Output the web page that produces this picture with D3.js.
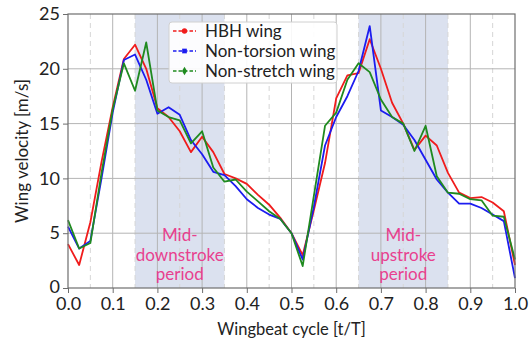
<!DOCTYPE html>
<html>
<head>
<meta charset="utf-8">
<script src="https://cdn.jsdelivr.net/npm/d3@7"></script>
<style>
  body { margin: 0; background: #fff; }
  svg { display: block; font-family: "Lato", "Noto Sans", sans-serif; }
</style>
</head>
<body>
<div id="chart"></div>
<script>
// wingbeat cycle samples (t/T)
const cycle = [0, 0.025, 0.05, 0.075, 0.1, 0.125, 0.15, 0.175, 0.2, 0.225, 0.25, 0.275, 0.3, 0.325, 0.35, 0.375, 0.4, 0.425, 0.45, 0.475, 0.5,
  0.525, 0.55, 0.575, 0.6, 0.625, 0.65, 0.675, 0.7, 0.725, 0.75, 0.775, 0.8, 0.825, 0.85, 0.875, 0.9, 0.925, 0.95, 0.975, 1.0]

const hbhWing = [4.0, 2.1, 6.0, 11.5, 16.5, 20.9, 22.2, 20.0, 16.4, 15.6, 14.3, 12.4, 13.8, 12.4, 10.4, 10.0, 9.5, 8.5, 7.6, 6.4, 5.0,
  3.0, 7.1, 11.4, 17.3, 19.4, 19.6, 22.7, 20.0, 16.9, 15.0, 12.6, 13.9, 13.0, 10.5, 8.7, 8.2, 8.3, 7.8, 7.0, 2.1]
const nonTorsionWing = [5.6, 3.6, 4.3, 10.0, 16.0, 20.8, 21.3, 19.0, 15.9, 16.5, 15.8, 13.5, 12.2, 10.6, 10.3, 9.3, 8.1, 7.3, 6.7, 6.3, 5.0,
  2.6, 7.4, 13.0, 15.6, 17.5, 19.8, 23.9, 16.2, 15.6, 14.9, 13.5, 11.7, 9.9, 8.7, 7.7, 7.7, 7.3, 6.7, 6.1, 0.9]
const nonStretchWing = [6.2, 3.6, 4.1, 10.5, 16.3, 20.5, 18.0, 22.4, 16.2, 15.6, 15.3, 13.2, 14.3, 11.0, 9.7, 9.9, 8.8, 7.9, 7.0, 6.3, 5.0,
  2.0, 8.4, 14.8, 16.0, 19.0, 20.5, 19.7, 17.2, 15.6, 15.0, 12.5, 14.8, 10.2, 8.7, 8.6, 8.1, 8.0, 6.6, 6.5, 2.6]

const seriesNames = ["HBH wing", "Non-torsion wing", "Non-stretch wing"]
const seriesColors = ["#f01c1c", "#1c1cf0", "#1f8a1f"]
const seriesMarkers = [d3.symbolCircle, d3.symbolSquare, d3.symbolDiamond]

const xTicks = [0, 0.1, 0.2, 0.3, 0.4, 0.5, 0.6, 0.7, 0.8, 0.9, 1.0]
const xMinor = [0.05, 0.15, 0.25, 0.35, 0.45, 0.55, 0.65, 0.75, 0.85, 0.95]
const yTicks = [0, 5, 10, 15, 20, 25]

// shaded mid-stroke periods
const periods = [[0.15, 0.35], [0.65, 0.85]]
const periodLabels = [["Mid-", "downstroke", "period"], ["Mid-", "upstroke", "period"]]

const width = 532, height = 341
const margin = { top: 14, right: 17, bottom: 53, left: 68 }
const w = width - margin.left - margin.right
const h = height - margin.top - margin.bottom

const svg = d3.select("#chart").append("svg").attr("width", width).attr("height", height)
const g = svg.append("g").attr("transform", `translate(${margin.left},${margin.top})`)

const x = d3.scaleLinear().domain([0, 1]).range([0, w])
const y = d3.scaleLinear().domain([0, 25]).range([h, 0])

// shading
g.selectAll("rect.period").data(periods).enter().append("rect")
  .attr("x", d => x(d[0])).attr("width", d => x(d[1]) - x(d[0]))
  .attr("y", 0).attr("height", h)
  .attr("fill", "#dbe1ef")

// grid
g.selectAll("line.minor").data(xMinor).enter().append("line")
  .attr("x1", d => x(d)).attr("x2", d => x(d)).attr("y1", 0).attr("y2", h)
  .attr("stroke", "#d6d6d6").attr("stroke-width", 1).attr("stroke-dasharray", "5,4")
g.selectAll("line.vgrid").data(xTicks.slice(1, -1)).enter().append("line")
  .attr("x1", d => x(d)).attr("x2", d => x(d)).attr("y1", 0).attr("y2", h)
  .attr("stroke", "#b4b4b4").attr("stroke-width", 1)
g.selectAll("line.hgrid").data(yTicks.slice(1, -1)).enter().append("line")
  .attr("y1", d => y(d)).attr("y2", d => y(d)).attr("x1", 0).attr("x2", w)
  .attr("stroke", "#b4b4b4").attr("stroke-width", 1)

// period labels
periodLabels.forEach((lines, i) => {
  const cx = x((periods[i][0] + periods[i][1]) / 2)
  lines.forEach((txt, j) => {
    g.append("text").attr("x", cx).attr("y", y(4.25) + j * 19.5)
      .attr("text-anchor", "middle").attr("font-size", 17).attr("fill", "#e8408e")
      .text(txt)
  })
})

// lines
const lineGen = d3.line().x((d, i) => x(cycle[i])).y(d => y(d))
const allSeries = [hbhWing, nonTorsionWing, nonStretchWing]
allSeries.forEach((s, i) => {
  g.append("path").datum(s)
    .attr("d", lineGen).attr("fill", "none")
    .attr("stroke", seriesColors[i]).attr("stroke-width", 1.8)
    .attr("stroke-linejoin", "round")
})

// frame
g.append("rect").attr("width", w).attr("height", h)
  .attr("fill", "none").attr("stroke", "#6e6e6e").attr("stroke-width", 1.2)

// axes
const xAxis = g.append("g").attr("transform", `translate(0,${h})`)
  .call(d3.axisBottom(x).tickValues(xTicks).tickFormat(d3.format(".1f")).tickSize(5).tickPadding(4))
const yAxis = g.append("g")
  .call(d3.axisLeft(y).tickValues(yTicks).tickSize(5).tickPadding(3))
;[xAxis, yAxis].forEach(a => {
  a.select(".domain").remove()
  a.selectAll(".tick line").attr("stroke", "#6e6e6e")
  a.selectAll(".tick text").attr("font-size", 18).attr("fill", "#222").attr("font-family", "Lato, sans-serif")
})
yAxis.select(".tick text").attr("dy", "0.25em") // keep the 0 clear of the 0.0

svg.append("text").attr("x", margin.left + w / 2).attr("y", 335)
  .attr("text-anchor", "middle").attr("font-size", 16.5).attr("fill", "#222")
  .text("Wingbeat cycle [t/T]")
svg.append("text").attr("transform", `translate(28,${margin.top + h / 2}) rotate(-90)`)
  .attr("text-anchor", "middle").attr("font-size", 17).attr("fill", "#222")
  .text("Wing velocity [m/s]")

// legend
const legend = svg.append("g").attr("transform", "translate(169,22)")
legend.append("rect").attr("width", 168).attr("height", 61).attr("rx", 3)
  .attr("fill", "#fff").attr("fill-opacity", 0.9).attr("stroke", "#d0d0d0")
seriesNames.forEach((name, i) => {
  const row = legend.append("g").attr("transform", `translate(0,${9 + i * 20})`)
  row.append("line").attr("x1", 4).attr("x2", 27).attr("y1", 0).attr("y2", 0)
    .attr("stroke", seriesColors[i]).attr("stroke-width", 1.6).attr("stroke-dasharray", "3.5,2")
  row.append("path").attr("d", d3.symbol().type(seriesMarkers[i]).size(22))
    .attr("transform", "translate(15.5,0)").attr("fill", seriesColors[i])
  row.append("text").attr("x", 36).attr("y", 0).attr("dy", "0.35em")
    .attr("font-size", 17).attr("fill", "#222").text(name)
})
</script>
</body>
</html>
